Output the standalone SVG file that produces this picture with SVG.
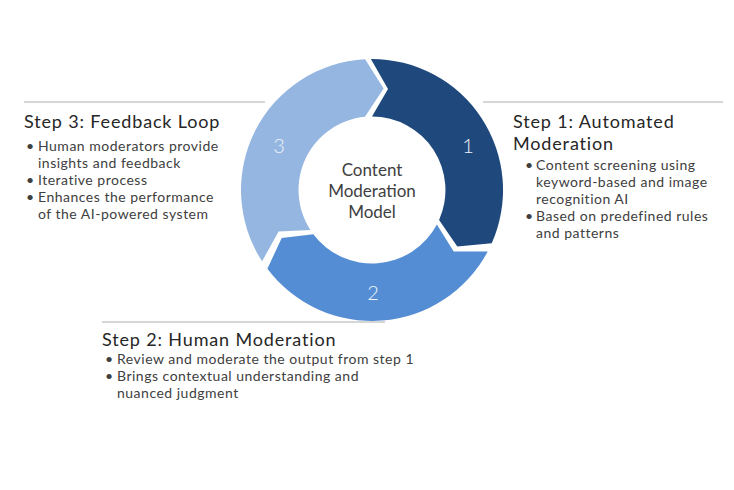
<svg xmlns="http://www.w3.org/2000/svg" width="734" height="490" viewBox="0 0 734 490">
<style>
.h{font-family:Lato,"Open Sans","Liberation Sans",sans-serif;font-size:18px;letter-spacing:0.85px;fill:#262626}
.b{font-family:Lato,"Open Sans","Liberation Sans",sans-serif;font-size:14px;letter-spacing:0.5px;fill:#404040}
.c{font-family:Lato,"Open Sans","Liberation Sans",sans-serif;font-size:17px;fill:#404040;text-anchor:middle}
.n{font-family:Lato,"Open Sans","Liberation Sans",sans-serif;font-size:20px;font-weight:300;fill:#eef3fa;text-anchor:middle}
.rule{stroke:#c8c8c8;stroke-width:1.5;fill:none}
</style>
<rect width="734" height="490" fill="#ffffff"/>
<g id="connectors">
<line class="rule" x1="24" y1="102" x2="265" y2="102"/>
<line class="rule" x1="483" y1="102" x2="723" y2="102"/>
<line class="rule" x1="102" y1="322" x2="385" y2="322"/>
</g>
<g id="step1-segment">
<path d="M370.9,59 A131,131 0 0 1 491.7,243.3 L457.3,246.4 L439.1,219.9 A73.5,73.5 0 0 0 372,116.5 L388,89 Z" fill="#1f497d"/>
<text class="n" x="468" y="153">1</text>
</g>
<g id="step2-segment">
<path d="M487.7,251.5 A131,131 0 0 1 267.4,268.8 L281.7,238 L313.3,234.2 A73.5,73.5 0 0 0 436.9,224.5 L453.7,251.5 Z" fill="#548dd4"/>
<text class="n" x="373" y="300">2</text>
</g>
<g id="step3-segment">
<path d="M262.1,261.3 A131,131 0 0 1 365.1,59.2 L383.6,88.4 L365,116.8 A73.5,73.5 0 0 0 310.4,230 L278.6,231.6 Z" fill="#95b6e0"/>
<text class="n" x="279" y="153">3</text>
</g>
<g id="center">
<text class="c" x="372" y="176">Content</text>
<text class="c" x="372" y="197">Moderation</text>
<text class="c" x="372" y="218">Model</text>
</g>
<g id="step3-text">
<text class="h" x="24" y="128">Step 3: Feedback Loop</text>
<text class="b" x="26" y="151">•</text>
<text class="b" x="38" y="151">Human moderators provide</text>
<text class="b" x="38" y="168">insights and feedback</text>
<text class="b" x="26" y="185">•</text>
<text class="b" x="38" y="185">Iterative process</text>
<text class="b" x="26" y="202">•</text>
<text class="b" x="38" y="202">Enhances the performance</text>
<text class="b" x="38" y="219">of the AI-powered system</text>
</g>
<g id="step1-text">
<text class="h" x="513" y="128">Step 1: Automated</text>
<text class="h" x="513" y="150">Moderation</text>
<text class="b" x="525" y="170">•</text>
<text class="b" x="536" y="170">Content screening using</text>
<text class="b" x="536" y="187">keyword-based and image</text>
<text class="b" x="536" y="204">recognition AI</text>
<text class="b" x="525" y="221">•</text>
<text class="b" x="536" y="221">Based on predefined rules</text>
<text class="b" x="536" y="238">and patterns</text>
</g>
<g id="step2-text">
<text class="h" x="102" y="346">Step 2: Human Moderation</text>
<text class="b" x="105" y="364">•</text>
<text class="b" x="117" y="364">Review and moderate the output from step 1</text>
<text class="b" x="105" y="381">•</text>
<text class="b" x="117" y="381">Brings contextual understanding and</text>
<text class="b" x="117" y="398">nuanced judgment</text>
</g>
</svg>
